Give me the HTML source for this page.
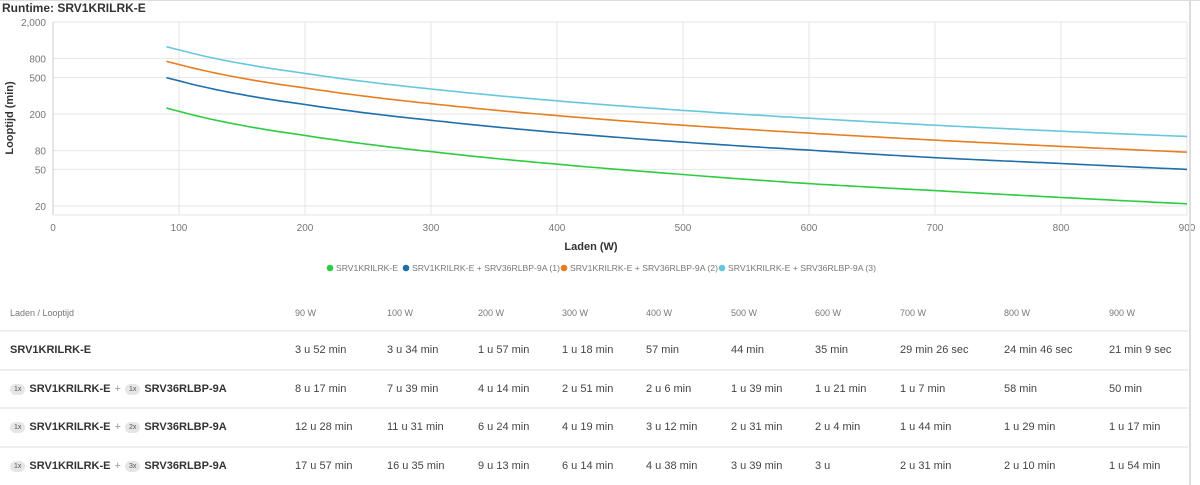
<!DOCTYPE html>
<html><head><meta charset="utf-8"><style>
body{margin:0;width:1200px;height:485px;background:#fff;font-family:"Liberation Sans",Arial,sans-serif;position:relative;overflow:hidden}
.t{position:absolute;left:2px;top:1px;font-size:12px;font-weight:bold;color:#333}
svg{position:absolute;left:0;top:0}
table{position:absolute;left:0;top:296px;width:1188px;border-collapse:collapse;font-size:11px;color:#444}
td{padding:0;height:36.5px;border-top:2px solid #eee;white-space:nowrap}
tr.h td{font-size:9px;color:#777;height:34px;border-top:none}
td.l{padding-left:10px;width:285px;font-weight:bold;font-size:11px;color:#333}
.b{display:inline-block;background:#e6e6e6;border-radius:8px;font-size:7px;padding:2px 4px;color:#555;font-weight:normal;margin-right:4px;vertical-align:1px}
.p{color:#999;font-weight:normal;margin:0 4px}
</style></head><body>
<div class="t">Runtime: SRV1KRILRK-E</div>
<svg width="1200" height="300" id="s" font-family="Liberation Sans, Arial, sans-serif"></svg>
<div style="position:absolute;left:1189px;top:0;width:2px;height:485px;background:#ddd"></div>
<table>
<tr class="h"><td class="l" style="font-weight:normal;font-size:9px;color:#777">Laden / Looptijd</td><td style="width:92px">90 W</td><td style="width:91px">100 W</td><td style="width:84px">200 W</td><td style="width:84px">300 W</td><td style="width:85px">400 W</td><td style="width:84px">500 W</td><td style="width:85px">600 W</td><td style="width:104px">700 W</td><td style="width:105px">800 W</td><td>900 W</td></tr>
<tr><td class="l">SRV1KRILRK-E</td><td>3 u 52 min</td><td>3 u 34 min</td><td>1 u 57 min</td><td>1 u 18 min</td><td>57 min</td><td>44 min</td><td>35 min</td><td>29 min 26 sec</td><td>24 min 46 sec</td><td>21 min 9 sec</td></tr>
<tr><td class="l"><span class="b">1x</span>SRV1KRILRK-E<span class="p">+</span><span class="b">1x</span>SRV36RLBP-9A</td><td>8 u 17 min</td><td>7 u 39 min</td><td>4 u 14 min</td><td>2 u 51 min</td><td>2 u 6 min</td><td>1 u 39 min</td><td>1 u 21 min</td><td>1 u 7 min</td><td>58 min</td><td>50 min</td></tr>
<tr><td class="l"><span class="b">1x</span>SRV1KRILRK-E<span class="p">+</span><span class="b">2x</span>SRV36RLBP-9A</td><td>12 u 28 min</td><td>11 u 31 min</td><td>6 u 24 min</td><td>4 u 19 min</td><td>3 u 12 min</td><td>2 u 31 min</td><td>2 u 4 min</td><td>1 u 44 min</td><td>1 u 29 min</td><td>1 u 17 min</td></tr>
<tr><td class="l"><span class="b">1x</span>SRV1KRILRK-E<span class="p">+</span><span class="b">3x</span>SRV36RLBP-9A</td><td>17 u 57 min</td><td>16 u 35 min</td><td>9 u 13 min</td><td>6 u 14 min</td><td>4 u 38 min</td><td>3 u 39 min</td><td>3 u</td><td>2 u 31 min</td><td>2 u 10 min</td><td>1 u 54 min</td></tr>
</table>
<script>
var s=document.getElementById('s'),h='';
function X(w){return 53+w*(1187-53)/900}
function Y(v){return 22+92*Math.log10(2000/v)}
[100,200,300,400,500,600,700,800,900].forEach(function(w){h+='<line x1="'+X(w)+'" x2="'+X(w)+'" y1="22" y2="215" stroke="#e6e6e6"/>'});
[2000,800,500,200,80,50,20].forEach(function(v){var y=Y(v);h+='<line x1="53" x2="1187" y1="'+y+'" y2="'+y+'" stroke="#e6e6e6"/><text x="46" y="'+(y+4)+'" font-size="10" fill="#777" text-anchor="end">'+(v==2000?'2,000':v)+'</text>'});
h+='<line x1="53" x2="53" y1="22" y2="215" stroke="#ccc"/><line x1="53" x2="1187" y1="215" y2="215" stroke="#e6e6e6"/>';
[0,100,200,300,400,500,600,700,800,900].forEach(function(w){h+='<text x="'+X(w)+'" y="231" font-size="10" fill="#777" text-anchor="middle">'+w+'</text>'});
h+='<text x="591" y="250" font-size="11" font-weight="bold" fill="#333" text-anchor="middle">Laden (W)</text>';
h+='<text transform="translate(13,118) rotate(-90)" font-size="11" font-weight="bold" fill="#333" text-anchor="middle">Looptijd (min)</text>';
var W=[90,100,200,300,400,500,600,700,800,900];
var D=[[232,214,117,78,57,44,35,29.43,24.77,21.15,'#2ecc40'],[497,459,254,171,126,99,81,67,58,50,'#1f6fab'],[748,691,384,259,192,151,124,104,89,77,'#e67e22'],[1077,995,553,374,278,219,180,151,130,114,'#66c8dc']];
D.forEach(function(d){var p='';for(var i=0;i<9;i++){for(var k=0;k<20;k++){var t=k/20,w0=W[i],w1=W[i+1];var w=w0+(w1-w0)*t;var lv=Math.log(d[i])+(Math.log(d[i+1])-Math.log(d[i]))*(Math.log(w/w0)/Math.log(w1/w0));p+=(p?'L':'M')+X(w).toFixed(1)+','+Y(Math.exp(lv)).toFixed(1);}}p+='L'+X(900)+','+Y(d[9]);h+='<path d="'+p+'" fill="none" stroke="'+d[10]+'" stroke-width="1.6"/>'});
var L=[['SRV1KRILRK-E',330,62],['SRV1KRILRK-E + SRV36RLBP-9A (1)',406,148],['SRV1KRILRK-E + SRV36RLBP-9A (2)',564,148],['SRV1KRILRK-E + SRV36RLBP-9A (3)',722,148]];
L.forEach(function(l,i){h+='<circle cx="'+l[1]+'" cy="268" r="3.3" fill="'+D[i][10]+'"/><text x="'+(l[1]+6)+'" y="271" font-size="8.5" fill="#777" textLength="'+l[2]+'" lengthAdjust="spacingAndGlyphs">'+l[0]+'</text>'});
h+='<line x1="0" x2="1200" y1="0.5" y2="0.5" stroke="#ddd"/>';
s.innerHTML=h;
</script>
</body></html>
